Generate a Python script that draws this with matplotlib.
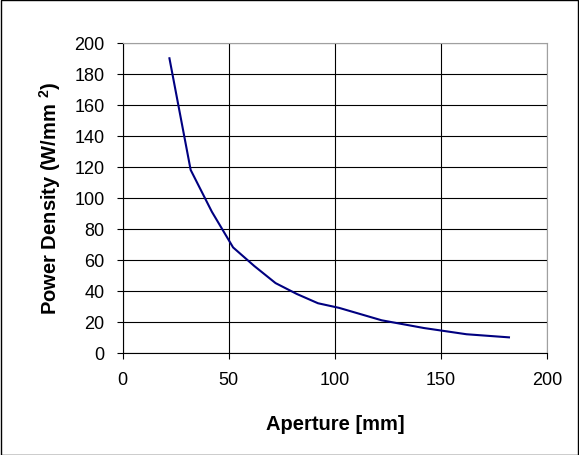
import matplotlib
matplotlib.use("Agg")
import matplotlib.pyplot as plt
from matplotlib.patches import Rectangle

# aperture [mm] vs power density [W/mm^2]
aperture = [22, 32, 42, 52, 62, 72, 82, 92, 102, 122, 142, 162, 182]
power_density = [190, 118, 91, 68, 56, 45, 38, 32, 29, 21, 16, 12, 10]

plt.rcParams['font.family'] = ['Liberation Sans', 'DejaVu Sans']
plt.rcParams['mathtext.fontset'] = 'custom'
plt.rcParams['mathtext.bf'] = 'Liberation Sans:bold'

fig = plt.figure(figsize=(5.79, 4.56), dpi=100)
ax = fig.add_axes([0.212, 0.224, 0.733, 0.680])

ax.plot(aperture, power_density, color='#000080', linewidth=1.5)

ax.set_xlim(0, 200)
ax.set_ylim(0, 200)
ax.set_xticks(range(0, 201, 50))
ax.set_yticks(range(0, 201, 20))
ax.grid(True, color='black', linewidth=0.8)
ax.set_axisbelow(True)
ax.tick_params(direction='out', length=4, width=0.8, labelsize=13, colors='black', pad=9)

for side in ['top', 'right']:
    ax.spines[side].set_color('#a0a0a0')
for side in ['left', 'bottom']:
    ax.spines[side].set_color('black')

ax.set_xlabel('Aperture [mm]', fontsize=14.5, fontweight='bold', labelpad=19)
ax.set_ylabel(r'Power Density (W/mm $\mathbf{^2}$)', fontsize=14.5, fontweight='bold', labelpad=8)

fig.patches.append(Rectangle((0.001, 0.001), 0.997, 0.997, transform=fig.transFigure,
                             fill=False, edgecolor='black', linewidth=1))

fig.savefig('out.png', dpi=100)
